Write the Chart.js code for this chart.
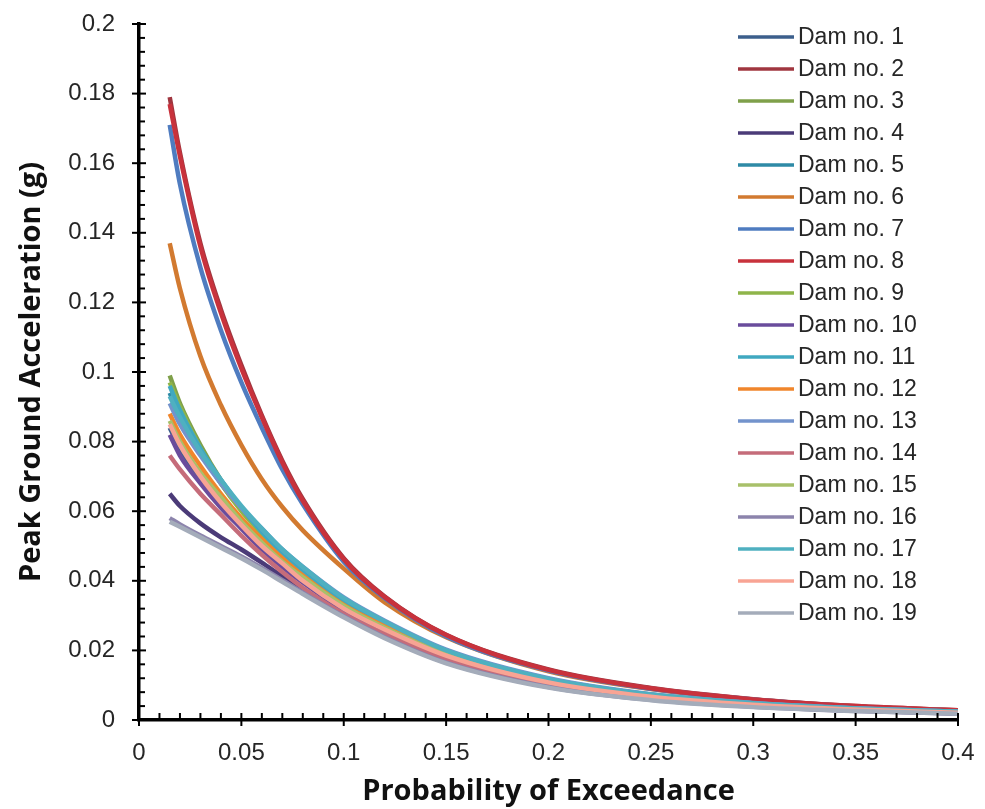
<!DOCTYPE html>
<html>
<head>
<meta charset="utf-8">
<title>Peak Ground Acceleration vs Probability of Exceedance</title>
<script src="https://cdn.jsdelivr.net/npm/chart.js@4.4.1/dist/chart.umd.min.js"></script>
<style>
  html, body { margin: 0; padding: 0; background: #fff; }
  #wrap { width: 985px; height: 809px; position: relative; }
</style>
</head>
<body>
<div id="wrap"><canvas id="pga-chart"></canvas></div>
<script>
// probability of exceedance (x)
const probs = [0.015, 0.02, 0.03, 0.04, 0.05, 0.06, 0.07, 0.08, 0.1, 0.12, 0.15, 0.2, 0.25, 0.3, 0.35, 0.4];

// PGA (g) per dam
const dam1  = [0.084, 0.078, 0.069, 0.062, 0.0555, 0.0495, 0.0445, 0.040, 0.032, 0.026, 0.0183, 0.0107, 0.0067, 0.0044, 0.0030, 0.0021];
const dam2  = [0.179, 0.163, 0.137, 0.118, 0.102, 0.0875, 0.0745, 0.0635, 0.0465, 0.0355, 0.0245, 0.0145, 0.0092, 0.0060, 0.0040, 0.0028];
const dam3  = [0.099, 0.091, 0.079, 0.069, 0.061, 0.054, 0.048, 0.043, 0.034, 0.0275, 0.0195, 0.0115, 0.0072, 0.0047, 0.0032, 0.0023];
const dam4  = [0.065, 0.0615, 0.0565, 0.0525, 0.049, 0.0452, 0.0412, 0.0374, 0.0302, 0.024, 0.0167, 0.0097, 0.0060, 0.0040, 0.0027, 0.0019];
const dam5  = [0.094, 0.087, 0.077, 0.068, 0.0605, 0.054, 0.048, 0.043, 0.034, 0.0275, 0.0195, 0.0115, 0.0071, 0.0047, 0.0032, 0.0023];
const dam6  = [0.137, 0.124, 0.1045, 0.0905, 0.079, 0.0692, 0.0612, 0.0545, 0.0435, 0.0338, 0.0238, 0.0140, 0.0089, 0.0058, 0.0039, 0.0027];
const dam7  = [0.171, 0.154, 0.130, 0.112, 0.097, 0.084, 0.072, 0.062, 0.0455, 0.035, 0.024, 0.0142, 0.0090, 0.0059, 0.0039, 0.0027];
const dam8  = [0.177, 0.162, 0.136, 0.117, 0.101, 0.087, 0.074, 0.063, 0.0462, 0.0353, 0.0244, 0.0144, 0.0091, 0.0059, 0.0040, 0.0028];
const dam9  = [0.097, 0.090, 0.078, 0.068, 0.060, 0.0535, 0.0475, 0.0425, 0.0335, 0.027, 0.019, 0.0112, 0.0070, 0.0046, 0.0031, 0.0022];
const dam10 = [0.082, 0.076, 0.068, 0.061, 0.055, 0.049, 0.044, 0.0395, 0.0315, 0.0255, 0.018, 0.0105, 0.0066, 0.0043, 0.0030, 0.0021];
const dam11 = [0.096, 0.089, 0.078, 0.069, 0.061, 0.054, 0.048, 0.043, 0.0345, 0.028, 0.020, 0.0118, 0.0073, 0.0048, 0.0033, 0.0024];
const dam12 = [0.088, 0.082, 0.073, 0.065, 0.058, 0.052, 0.0465, 0.0415, 0.033, 0.027, 0.019, 0.0112, 0.0070, 0.0046, 0.0031, 0.0022];
const dam13 = [0.091, 0.085, 0.076, 0.068, 0.061, 0.055, 0.049, 0.044, 0.0352, 0.0285, 0.0202, 0.0120, 0.0074, 0.0049, 0.0034, 0.0024];
const dam14 = [0.076, 0.072, 0.065, 0.059, 0.053, 0.0475, 0.0425, 0.038, 0.0305, 0.0247, 0.0175, 0.0102, 0.0064, 0.0042, 0.0029, 0.0020];
const dam15 = [0.086, 0.080, 0.071, 0.064, 0.057, 0.051, 0.0455, 0.041, 0.0328, 0.0265, 0.0188, 0.0110, 0.0069, 0.0045, 0.0031, 0.0022];
const dam16 = [0.058, 0.0562, 0.053, 0.050, 0.047, 0.0437, 0.0402, 0.0366, 0.0298, 0.0238, 0.0165, 0.0095, 0.0058, 0.0038, 0.0026, 0.0019];
const dam17 = [0.093, 0.087, 0.077, 0.069, 0.0615, 0.055, 0.049, 0.044, 0.035, 0.0283, 0.020, 0.0118, 0.0073, 0.0048, 0.0033, 0.0024];
const dam18 = [0.085, 0.079, 0.070, 0.0625, 0.056, 0.050, 0.045, 0.040, 0.032, 0.026, 0.0185, 0.0108, 0.0067, 0.0044, 0.0030, 0.0021];
const dam19 = [0.057, 0.0555, 0.0525, 0.0495, 0.0465, 0.0432, 0.0397, 0.0362, 0.0295, 0.0235, 0.0163, 0.0093, 0.0057, 0.0037, 0.0026, 0.0018];

const damSeries = [dam1, dam2, dam3, dam4, dam5, dam6, dam7, dam8, dam9, dam10,
                   dam11, dam12, dam13, dam14, dam15, dam16, dam17, dam18, dam19];
const damNames = damSeries.map((_, i) => 'Dam no. ' + (i + 1));
const damColors = ['#3c5f8c', '#a0363f', '#7fa04a', '#4b3b78', '#2e8aa6', '#d27a30',
                   '#4f7cc0', '#c8323c', '#8fb54a', '#6a4c9c', '#40a8c0', '#f0862c',
                   '#7393cc', '#c56c7a', '#a8c06a', '#8c84ac', '#4fb0c0', '#f8a494', '#a4acba'];

const xTicks = [0, 0.05, 0.1, 0.15, 0.2, 0.25, 0.3, 0.35, 0.4];
const yTicks = [0, 0.02, 0.04, 0.06, 0.08, 0.1, 0.12, 0.14, 0.16, 0.18, 0.2];

const fmt = v => String(+v.toFixed(3));

// axis tick marks: majors cross the axis, minors point inwards
const tickMarks = {
    id: 'tickMarks',
    afterDraw(chart) {
        const { ctx, chartArea, scales } = chart;
        ctx.save();
        ctx.strokeStyle = '#000';
        ctx.lineWidth = 2;
        for (let i = 0; i <= 40; i++) {
            const px = scales.x.getPixelForValue(i / 100);
            const major = i % 5 === 0;
            ctx.beginPath();
            ctx.moveTo(px, chartArea.bottom + (major ? 6 : 0));
            ctx.lineTo(px, chartArea.bottom - 7);
            ctx.stroke();
        }
        for (let i = 0; i <= 50; i++) {
            const py = scales.y.getPixelForValue(i * 0.004);
            const major = i % 5 === 0;
            ctx.beginPath();
            ctx.moveTo(chartArea.left - (major ? 7 : 0), py);
            ctx.lineTo(chartArea.left + (major ? 7 : 6), py);
            ctx.stroke();
        }
        ctx.restore();
    }
};

// legend drawn inside the plot, top right
const insideLegend = {
    id: 'insideLegend',
    afterDraw(chart) {
        const { ctx } = chart;
        ctx.save();
        ctx.font = '23px "Liberation Sans", Arial, sans-serif';
        ctx.textBaseline = 'middle';
        chart.data.datasets.forEach((ds, i) => {
            const y = 37 + i * 32;
            ctx.strokeStyle = ds.borderColor;
            ctx.lineWidth = 3.5;
            ctx.beginPath();
            ctx.moveTo(738, y);
            ctx.lineTo(794, y);
            ctx.stroke();
            ctx.fillStyle = '#262626';
            ctx.fillText(ds.label, 798, y + 1);
        });
        ctx.restore();
    }
};

new Chart(document.getElementById('pga-chart'), {
    type: 'line',
    data: {
        datasets: damSeries.map((vals, i) => ({
            label: damNames[i],
            data: probs.map((p, j) => ({ x: p, y: vals[j] })),
            borderColor: damColors[i],
            backgroundColor: damColors[i],
            borderWidth: 4.5,
            pointRadius: 0,
            cubicInterpolationMode: 'monotone',
            order: damSeries.length - i
        }))
    },
    options: {
        responsive: true,
        maintainAspectRatio: false,
        animation: false,
        layout: { padding: { left: 0, right: 27, top: 24, bottom: 0 } },
        plugins: {
            legend: { display: false },
            tooltip: { enabled: false }
        },
        scales: {
            x: {
                type: 'linear',
                min: 0,
                max: 0.4,
                afterFit: s => {
                    s.height = 89;
                    s.paddingLeft = 0;
                    s.paddingRight = 0;
                },
                afterBuildTicks: s => { s.ticks = xTicks.map(v => ({ value: v })); },
                ticks: {
                    callback: fmt,
                    padding: 19,
                    maxRotation: 0,
                    color: '#262626',
                    font: { family: '"Liberation Sans", Arial, sans-serif', size: 24 }
                },
                grid: { display: true, drawOnChartArea: false, drawTicks: false },
                border: { display: true, color: '#000', width: 3.5 },
                title: {
                    display: true,
                    text: 'Probability of Exceedance',
                    color: '#111',
                    padding: { top: 0, bottom: 0 },
                    font: { family: '"Open Sans", sans-serif', size: 29, weight: 'bold' }
                }
            },
            y: {
                type: 'linear',
                min: 0,
                max: 0.2,
                afterFit: s => {
                    s.width = 139;
                    s.paddingTop = 0;
                    s.paddingBottom = 0;
                },
                afterBuildTicks: s => { s.ticks = yTicks.map(v => ({ value: v })); },
                ticks: {
                    callback: fmt,
                    padding: 24,
                    color: '#262626',
                    font: { family: '"Liberation Sans", Arial, sans-serif', size: 24 }
                },
                grid: { display: true, drawOnChartArea: false, drawTicks: false },
                border: { display: true, color: '#000', width: 3.5 },
                title: {
                    display: true,
                    text: 'Peak Ground Acceleration (g)',
                    color: '#111',
                    padding: { top: 14, bottom: 0 },
                    font: { family: '"Open Sans", sans-serif', size: 29, weight: 'bold' }
                }
            }
        }
    },
    plugins: [tickMarks, insideLegend]
});
</script>
</body>
</html>
